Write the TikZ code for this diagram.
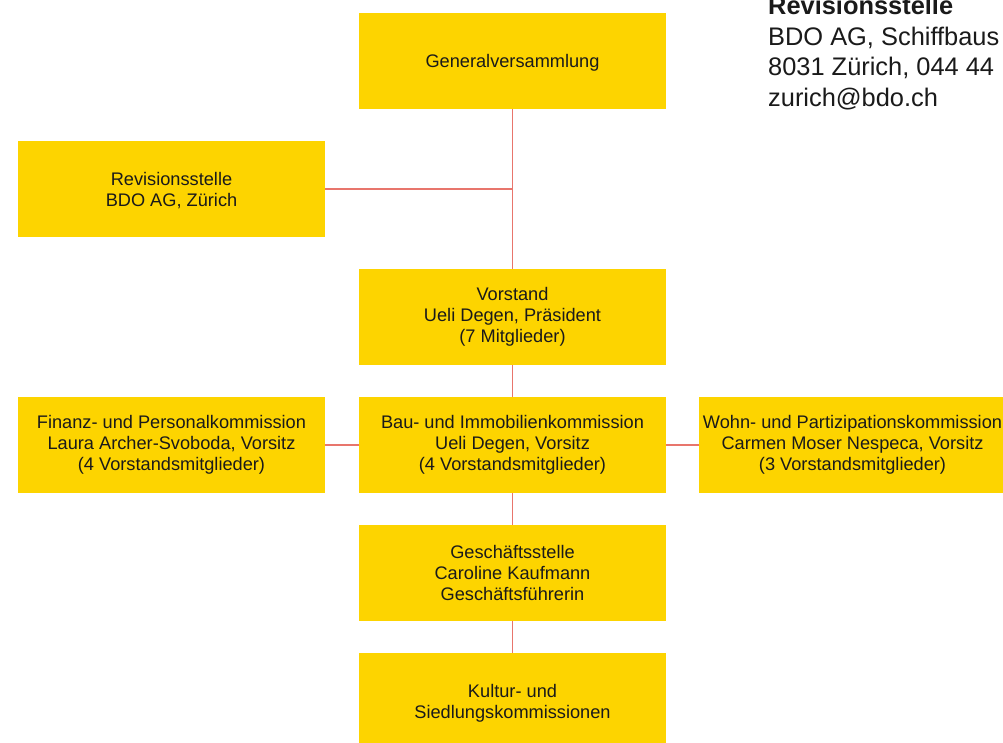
\documentclass[tikz,border=0pt]{standalone}
\usepackage{fontspec}
\setmainfont{Liberation Sans}
\definecolor{boxyellow}{HTML}{FDD400}
\definecolor{linered}{HTML}{E8756C}
\definecolor{txt}{HTML}{1A1A1A}
\begin{document}
\begin{tikzpicture}[x=1pt,y=-1pt,
  orgbox/.style={fill=boxyellow, draw=none, minimum width=307pt, minimum height=96pt,
    inner sep=0pt, align=center, text=txt, font=\fontsize{18.2}{21}\selectfont},
  lowtext/.style={text depth=0pt},
  conn/.style={draw=linered, line width=1.4pt},
  infotext/.style={anchor=base west, inner sep=0pt, text=txt, font=\fontsize{25.4}{30}\selectfont}]
\path[use as bounding box] (0,0) rectangle (1003,742);
\clip (0,0) rectangle (1003,742);
\fill[white] (0,0) rectangle (1003,742);

\node[orgbox, lowtext] (gv)   at (512.5,61)  {Generalversammlung};
\node[orgbox, lowtext] (rev)  at (171.5,189) {Revisionsstelle\\BDO AG, Zürich};
\node[orgbox] (vor)  at (512.5,317) {Vorstand\\Ueli Degen, Präsident\\(7 Mitglieder)};
\node[orgbox] (fin)  at (171.5,445) {Finanz- und Personalkommission\\Laura Archer-Svoboda, Vorsitz\\(4 Vorstandsmitglieder)};
\node[orgbox] (bau)  at (512.5,445) {Bau- und Immobilienkommission\\Ueli Degen, Vorsitz\\(4 Vorstandsmitglieder)};
\node[orgbox] (wohn) at (852.5,445) {Wohn- und Partizipationskommission\\Carmen Moser Nespeca, Vorsitz\\(3 Vorstandsmitglieder)};
\node[orgbox] (ges)  at (512.5,573) {Geschäftsstelle\\Caroline Kaufmann\\Geschäftsführerin};
\node[orgbox, lowtext] (kul)  at (512.5,701) {Kultur- und\\Siedlungskommissionen};

\draw[conn] (gv.south) -- (vor.north);
\draw[conn] (rev.east) -- (rev.east -| gv.south);
\draw[conn] (vor.south) -- (bau.north);
\draw[conn] (fin.east) -- (bau.west);
\draw[conn] (bau.east) -- (wohn.west);
\draw[conn] (bau.south) -- (ges.north);
\draw[conn] (ges.south) -- (kul.north);

\node[infotext, font=\fontsize{25.4}{30}\selectfont\bfseries] (i1) at (768,14) {Revisionsstelle};
\node[infotext] (i2) at (768,45) {BDO AG, Schiffbaus};
\node[infotext] (i3) at (768,75.5) {8031 Zürich, 044 44};
\node[infotext] (i4) at (768,106) {zurich@bdo.ch};
\end{tikzpicture}
\end{document}
